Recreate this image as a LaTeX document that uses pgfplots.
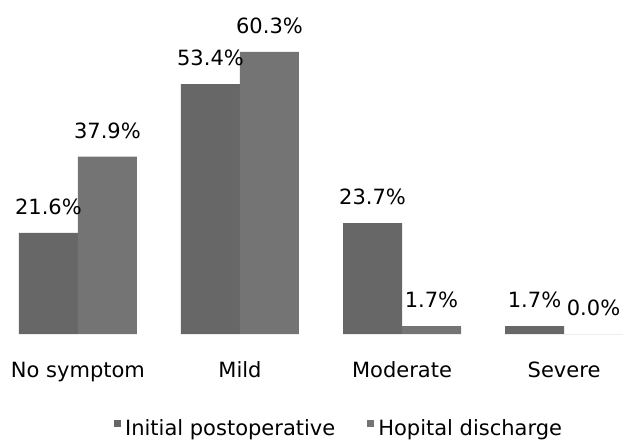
\documentclass[border=0pt]{standalone}
\usepackage{pgfplots}
\pgfplotsset{compat=1.18}
\usepackage{fontspec}
\setmainfont{DejaVu Sans}
\definecolor{barA}{HTML}{676767}
\definecolor{barB}{HTML}{747474}
\begin{document}
\fontsize{10.5pt}{12pt}\selectfont
\begin{tikzpicture}
\useasboundingbox (0pt,-53.5pt) rectangle (312pt,167pt);
\begin{axis}[
  scale only axis,
  width=312pt, height=167pt,
  xmin=-0.481, xmax=3.370,
  ymin=0, ymax=71.4,
  ybar=0pt, bar width=29.5pt,
  axis line style={draw=none},
  major tick style={draw=none},
  ytick=\empty,
  xtick={0,1,2,3},
  xticklabels={No symptom, Mild, Moderate, Severe},
  xticklabel style={yshift=-6pt},
  nodes near coords={\pgfmathprintnumber[fixed,zerofill,precision=1]{\pgfplotspointmeta}\%},
  every node near coord/.append style={anchor=south, inner sep=0pt, yshift=9pt, font=\fontsize{10.5pt}{12pt}\selectfont},
  legend style={draw=none, at={(0.545,-0.284)}, anchor=center, legend columns=2,
    /tikz/every even column/.append style={column sep=14pt}, font=\fontsize{10.5pt}{12pt}\selectfont},
  legend image code/.code={\fill[#1] (0pt,1pt) rectangle (3.5pt,4.5pt);},
  /pgf/number format/assume math mode=true,
]
\addplot[fill=barA, draw=none] coordinates {(0,21.6) (1,53.4) (2,23.7) (3,1.7)};
\addplot[fill=barB, draw=none] coordinates {(0,37.9) (1,60.3) (2,1.7) (3,0.0)};
\legend{Initial postoperative, Hopital discharge}
\end{axis}
\end{tikzpicture}
\end{document}
